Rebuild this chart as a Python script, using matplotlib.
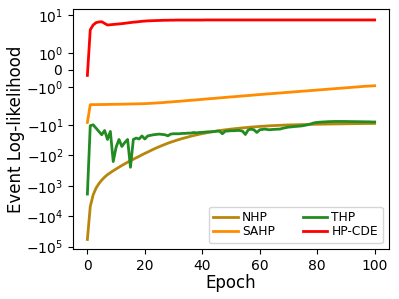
import matplotlib
matplotlib.use("Agg")
import matplotlib.pyplot as plt
from matplotlib.ticker import NullLocator

# epochs 0..100
epochs = list(range(101))

nhp = [-58000, -4800, -2000, -1200, -850, -650, -520, -430, -370, -320,
       -280, -245, -215, -190, -168, -150, -134, -120, -108, -96,
       -86, -78, -70, -63, -57, -52, -47.5, -43.5, -40, -37,
       -34.5, -32, -30, -28, -26.5, -25, -23.5, -22.3, -21.2, -20.2,
       -19.3, -18.5, -17.8, -17.1, -16.5, -15.9, -15.4, -14.9, -14.5, -14.1,
       -13.7, -13.4, -13.1, -12.8, -12.5, -12.3, -12.0, -11.8, -11.6, -11.4,
       -11.2, -11.05, -10.9, -10.75, -10.6, -10.5, -10.4, -10.3, -10.2, -10.1,
       -10.0, -9.95, -9.9, -9.85, -9.8, -9.75, -9.7, -9.65, -9.6, -9.55,
       -9.5, -9.46, -9.42, -9.38, -9.35, -9.32, -9.29, -9.26, -9.23, -9.2,
       -9.17, -9.14, -9.11, -9.08, -9.05, -9.02, -9.0, -8.98, -8.96, -8.94,
       -8.92]

sahp = [-8.3, -2.16, -2.15, -2.15, -2.14, -2.13, -2.13, -2.12, -2.11, -2.10,
        -2.10, -2.09, -2.08, -2.07, -2.06, -2.05, -2.04, -2.03, -2.02, -2.01,
        -2.00, -1.99, -1.98, -1.97, -1.96, -1.95, -1.94, -1.925, -1.91, -1.90,
        -1.885, -1.87, -1.86, -1.845, -1.83, -1.815, -1.80, -1.79, -1.775, -1.76,
        -1.745, -1.73, -1.715, -1.70, -1.69, -1.675, -1.66, -1.645, -1.63, -1.615,
        -1.60, -1.59, -1.575, -1.56, -1.545, -1.53, -1.52, -1.505, -1.49, -1.475,
        -1.46, -1.45, -1.435, -1.42, -1.41, -1.395, -1.38, -1.37, -1.355, -1.34,
        -1.33, -1.315, -1.30, -1.29, -1.275, -1.26, -1.25, -1.235, -1.22, -1.21,
        -1.195, -1.18, -1.17, -1.155, -1.14, -1.13, -1.115, -1.10, -1.09, -1.075,
        -1.06, -1.05, -1.035, -1.02, -1.01, -0.995, -0.98, -0.97, -0.96, -0.95,
        -0.94]

thp = [-1870, -10.6, -9.9, -12.7, -16.4, -21, -15.2, -30, -16.4, -160,
       -54, -30, -51, -38, -30, -246, -30, -27, -29, -23,
       -29, -23, -22, -21, -20.5, -20, -20.5, -21, -22.8, -20,
       -19.5, -19.5, -19.5, -19, -19, -18.6, -18.6, -17.7, -18.2, -17.7,
       -17.5, -17.2, -16.8, -16.8, -16.5, -16, -16, -19.5, -16, -15.8,
       -15.5, -15.5, -15.2, -15.2, -16, -20.6, -14.5, -13.7, -14.5, -17.7,
       -14.4, -14, -13.7, -14.4, -14.2, -14, -13.8, -13.7, -12.9, -12.3,
       -11.8, -11.6, -11.3, -11.1, -10.9, -10.6, -10.2, -9.7, -9.1, -8.5,
       -8.3, -8.1, -8.0, -7.9, -7.8, -7.75, -7.7, -7.7, -7.7, -7.7,
       -7.7, -7.75, -7.75, -7.8, -7.8, -7.85, -7.85, -7.9, -7.9, -8.0,
       -8.0]

hpcde = [-0.33, 3.2, 4.6, 5.5, 5.8, 5.9, 5.2, 4.6, 4.7, 4.8,
         4.9, 5.0, 5.1, 5.25, 5.4, 5.55, 5.7, 5.8, 5.95, 6.1,
         6.2, 6.3, 6.35, 6.4, 6.45, 6.5, 6.55, 6.6, 6.6, 6.65,
         6.65, 6.7, 6.7, 6.7, 6.7, 6.7, 6.7, 6.7, 6.7, 6.7,
         6.7, 6.75, 6.75, 6.75, 6.75, 6.75, 6.75, 6.75, 6.75, 6.75,
         6.75, 6.75, 6.75, 6.75, 6.75, 6.75, 6.75, 6.75, 6.75, 6.75,
         6.75, 6.75, 6.75, 6.75, 6.75, 6.75, 6.75, 6.75, 6.75, 6.75,
         6.75, 6.75, 6.75, 6.75, 6.75, 6.75, 6.75, 6.75, 6.75, 6.75,
         6.75, 6.75, 6.75, 6.75, 6.75, 6.75, 6.75, 6.75, 6.75, 6.75,
         6.75, 6.75, 6.75, 6.75, 6.75, 6.75, 6.75, 6.75, 6.75, 6.75,
         6.75]

yticks = [-1e5, -1e4, -1e3, -1e2, -10, -1, 0, 1, 10]

fig = plt.figure(figsize=(3.99, 2.99), dpi=100)
ax = fig.add_axes([0.183, 0.167, 0.792, 0.803])

ax.plot(epochs, nhp, color="darkgoldenrod", lw=2, label="NHP")
ax.plot(epochs, sahp, color="darkorange", lw=2, label="SAHP")
ax.plot(epochs, thp, color="forestgreen", lw=2, label="THP")
ax.plot(epochs, hpcde, color="red", lw=2, label="HP-CDE")

ax.set_yscale("symlog", linthresh=2, linscale=1)
ax.set_yticks(yticks)
ax.yaxis.set_minor_locator(NullLocator())
ax.set_ylim(-1.2e5, 15.5)
ax.set_xlim(-5, 105)
ax.set_xticks([0, 20, 40, 60, 80, 100])
ax.tick_params(labelsize=10)

ax.set_xlabel("Epoch", fontsize=12, labelpad=1)
ax.set_ylabel("Event Log-likelihood", fontsize=12, labelpad=1)

ax.legend(loc="lower right", ncol=2, fontsize=8.8, handlelength=2.0,
          handletextpad=0.33, columnspacing=2.3, labelspacing=0.05)

fig.savefig("out.png", dpi=100)
